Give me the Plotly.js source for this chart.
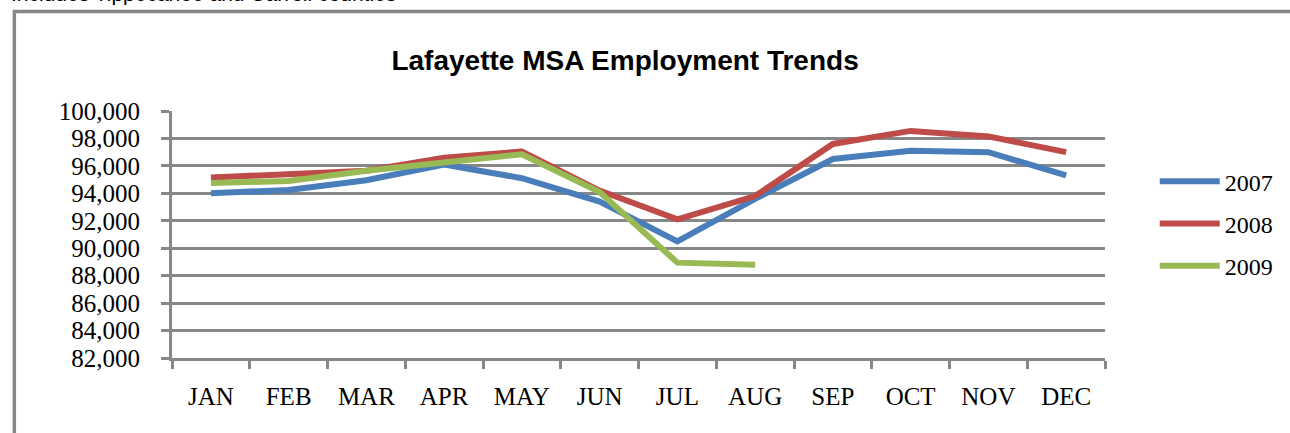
<!DOCTYPE html>
<html>
<head>
<meta charset="utf-8">
<script src="https://cdn.plot.ly/plotly-3.0.1.min.js"></script>
<style>
html,body{margin:0;padding:0;background:#fff;}
#chart{width:1290px;height:433px;}
</style>
</head>
<body>
<div id="chart"></div>
<script>
const months = ["JAN","FEB","MAR","APR","MAY","JUN","JUL","AUG","SEP","OCT","NOV","DEC"];
const seriesNames = ["2007","2008","2009"];
const values2007 = [94000, 94250, 94950, 96100, 95100, 93400, 90500, 93600, 96500, 97100, 97000, 95300];
const values2008 = [95150, 95450, 95650, 96600, 97050, 94200, 92100, 93800, 97600, 98550, 98150, 97000];
const values2009 = [94750, 94900, 95650, 96250, 96850, 94100, 88950, 88800];
const yTicks = [82000, 84000, 86000, 88000, 90000, 92000, 94000, 96000, 98000, 100000];
const yTickLabels = ["82,000","84,000","86,000","88,000","90,000","92,000","94,000","96,000","98,000","100,000"];
const chartTitle = "Lafayette MSA Employment Trends";
const noteText = "Includes Tippecanoe and Carroll counties";

const colors = ["#4a7ebb", "#be4b48", "#98b954"];
const allValues = [values2007, values2008, values2009];

const W = 1290, H = 433;
const L = 172, R = 1110, T = 110.7, B = 358.3;
const px = x => (x - L) / (R - L);
const py = y => (B - y) / (B - T);

const traces = allValues.map((vals, i) => ({
  type: "scatter",
  mode: "lines",
  name: seriesNames[i],
  legendgroup: seriesNames[i],
  x: months.slice(0, vals.length),
  y: vals,
  line: {color: colors[i], width: 6},
  hoverinfo: "x+y+name"
}));

const gridColor = "#878787";

const layout = {
  width: W, height: H,
  margin: {l: L, r: W - R, t: T, b: H - B, pad: 0},
  paper_bgcolor: "#ffffff",
  plot_bgcolor: "#ffffff",
  font: {family: "Liberation Serif, Times New Roman, serif", size: 25, color: "#000"},
  title: {
    text: "<b>" + chartTitle + "</b>",
    font: {family: "Liberation Sans, Arial, sans-serif", size: 28, color: "#000"},
    x: px(627.5), xref: "paper", xanchor: "center",
    y: 1 - 60/H, yref: "container", yanchor: "middle"
  },
  xaxis: {
    type: "category",
    categoryorder: "array",
    categoryarray: months,
    range: [-0.5, 11.5],
    tickson: "boundaries",
    ticks: "outside",
    ticklen: 8,
    tickwidth: 3,
    tickcolor: gridColor,
    showline: true,
    linecolor: gridColor,
    linewidth: 3,
    showgrid: false,
    zeroline: false,
    ticklabelstandoff: 14,
    tickfont: {family: "Liberation Serif, Times New Roman, serif", size: 25, color: "#000"},
    fixedrange: true
  },
  yaxis: {
    range: [82000, 100000],
    tickvals: yTicks,
    ticktext: yTickLabels,
    ticks: "outside",
    ticklen: 8,
    tickwidth: 3,
    tickcolor: gridColor,
    showline: true,
    linecolor: gridColor,
    linewidth: 3,
    showgrid: true,
    gridcolor: gridColor,
    gridwidth: 3,
    zeroline: false,
    ticklabelstandoff: 16,
    tickfont: {family: "Liberation Serif, Times New Roman, serif", size: 25, color: "#000"},
    fixedrange: true
  },
  showlegend: true,
  legend: {
    x: px(1160), xanchor: "left",
    y: py(159), yanchor: "top",
    bgcolor: "rgba(0,0,0,0)",
    borderwidth: 0,
    tracegroupgap: 8,
    itemwidth: 60,
    font: {family: "Liberation Serif, Times New Roman, serif", size: 24, color: "#000"}
  },
  shapes: [{
    type: "rect", xref: "paper", yref: "paper",
    x0: px(13.5), x1: px(1310), y0: py(11), y1: py(460),
    line: {color: gridColor, width: 3.5},
    fillcolor: "rgba(0,0,0,0)",
    layer: "below"
  }],
  annotations: [{
    text: noteText,
    xref: "paper", yref: "paper",
    x: px(8), xanchor: "left",
    y: py(6), yanchor: "bottom",
    showarrow: false,
    font: {family: "Liberation Sans, Arial, sans-serif", size: 21, color: "#000"}
  }]
};

Plotly.newPlot("chart", traces, layout, {displayModeBar: false, staticPlot: true});
</script>
</body>
</html>
